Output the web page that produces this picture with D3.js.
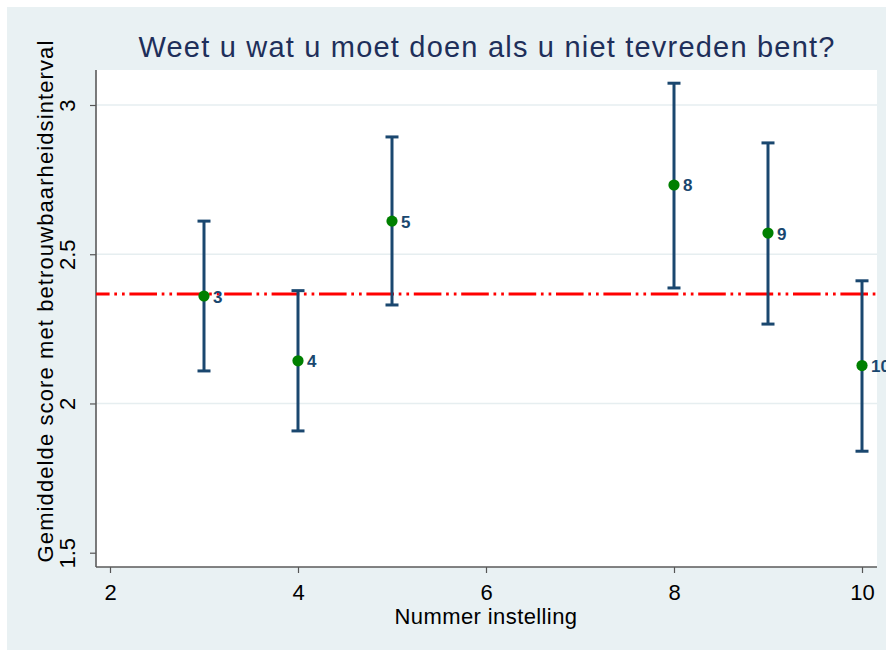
<!DOCTYPE html>
<html>
<head>
<meta charset="utf-8">
<script src="https://cdn.jsdelivr.net/npm/d3@7.9.0/dist/d3.min.js"></script>
<style>
  html, body { margin: 0; padding: 0; background: #fff; }
  svg { display: block; font-family: 'Liberation Sans', Arial, sans-serif; }
</style>
</head>
<body>
<div id="chart"></div>
<script>
const instellingen = [3, 4, 5, 8, 9, 10];
const gemiddelden = [2.36, 2.143, 2.611, 2.732, 2.571, 2.127];
const ondergrenzen = [2.109, 1.908, 2.33, 2.387, 2.266, 1.84];
const bovengrenzen = [2.611, 2.378, 2.893, 3.073, 2.873, 2.411];
const totaalGemiddelde = 2.367;
const xTicks = [2, 4, 6, 8, 10];
const yTicks = [1.5, 2, 2.5, 3];
const gridTicks = [2, 2.5, 3];

const width = 886;
const height = 650;

const plot = { left: 96, right: 877, top: 70, bottom: 567 };

const svg = d3
  .select('#chart')
  .append('svg')
  .attr('width', width)
  .attr('height', height);

// background
svg.append('rect')
  .attr('x', 7).attr('y', 7)
  .attr('width', width - 7).attr('height', height - 7)
  .attr('fill', '#e9f1f3');

svg.append('rect')
  .attr('x', plot.left).attr('y', plot.top)
  .attr('width', plot.right - plot.left).attr('height', plot.bottom - plot.top)
  .attr('fill', '#fff');

const xScale = d3.scaleLinear().domain([2, 10]).range([110, 862]);
const yScale = d3.scaleLinear().domain([1.5, 3]).range([552.7, 105]);

// gridlines
svg.append('g')
  .selectAll('line')
  .data(gridTicks)
  .join('line')
  .attr('x1', plot.left).attr('x2', plot.right)
  .attr('y1', (d) => yScale(d)).attr('y2', (d) => yScale(d))
  .attr('stroke', '#e6eef0')
  .attr('stroke-width', 1.5);

// axes
const yAxis = svg.append('g')
  .attr('transform', `translate(${plot.left}, 0)`)
  .call(d3.axisLeft(yScale).tickValues(yTicks).tickFormat((d) => String(d)).tickSize(6).tickSizeOuter(0));
yAxis.select('.domain').remove();
yAxis.selectAll('.tick line').attr('stroke', '#555').attr('stroke-width', 1.2);
yAxis.selectAll('.tick text')
  .attr('transform', 'rotate(-90)')
  .attr('x', 0).attr('y', -21)
  .attr('dy', 0)
  .attr('text-anchor', 'middle')
  .attr('fill', '#000')
  .style('font-size', '22px')
  .style('font-family', 'Liberation Sans, Arial, sans-serif');

const xAxis = svg.append('g')
  .attr('transform', `translate(0, ${plot.bottom})`)
  .call(d3.axisBottom(xScale).tickValues(xTicks).tickSize(6).tickSizeOuter(0));
xAxis.select('.domain').remove();
xAxis.selectAll('.tick line').attr('stroke', '#555').attr('stroke-width', 1.2);
xAxis.selectAll('.tick text')
  .attr('y', 33).attr('dy', 0)
  .attr('fill', '#000')
  .style('font-size', '22px')
  .style('font-family', 'Liberation Sans, Arial, sans-serif');

svg.append('line')
  .attr('x1', plot.left).attr('x2', plot.left)
  .attr('y1', plot.top).attr('y2', plot.bottom)
  .attr('stroke', '#5a5a5a').attr('stroke-width', 1.6);
svg.append('line')
  .attr('x1', plot.left).attr('x2', plot.right)
  .attr('y1', plot.bottom).attr('y2', plot.bottom)
  .attr('stroke', '#5a5a5a').attr('stroke-width', 1.6);

// reference line
svg.append('line')
  .attr('x1', plot.left).attr('x2', plot.right)
  .attr('y1', yScale(totaalGemiddelde)).attr('y2', yScale(totaalGemiddelde))
  .attr('stroke', '#ff0000')
  .attr('stroke-width', 3)
  .attr('stroke-dasharray', '27.6 4.7 2.7 5 2.7 4.7')
  .attr('stroke-dashoffset', 14);

const rows = instellingen.map((x, i) => ({
  x, mean: gemiddelden[i], lo: ondergrenzen[i], hi: bovengrenzen[i],
}));

// error bars
const bars = svg.append('g').attr('stroke', '#1a476f').attr('stroke-width', 3);
bars.selectAll('line.v')
  .data(rows)
  .join('line')
  .attr('class', 'v')
  .attr('x1', (d) => xScale(d.x)).attr('x2', (d) => xScale(d.x))
  .attr('y1', (d) => yScale(d.lo)).attr('y2', (d) => yScale(d.hi));
bars.selectAll('line.hi')
  .data(rows)
  .join('line')
  .attr('class', 'hi')
  .attr('x1', (d) => xScale(d.x) - 6.5).attr('x2', (d) => xScale(d.x) + 6.5)
  .attr('y1', (d) => yScale(d.hi)).attr('y2', (d) => yScale(d.hi));
bars.selectAll('line.lo')
  .data(rows)
  .join('line')
  .attr('class', 'lo')
  .attr('x1', (d) => xScale(d.x) - 6.5).attr('x2', (d) => xScale(d.x) + 6.5)
  .attr('y1', (d) => yScale(d.lo)).attr('y2', (d) => yScale(d.lo));

// points
svg.append('g')
  .selectAll('circle')
  .data(rows)
  .join('circle')
  .attr('cx', (d) => xScale(d.x))
  .attr('cy', (d) => yScale(d.mean))
  .attr('r', 5.6)
  .attr('fill', '#008000');

// marker labels (the last one runs off the right edge, as in the original)
svg.append('g')
  .selectAll('text')
  .data(rows)
  .join('text')
  .attr('x', (d) => xScale(d.x) + 9)
  .attr('y', (d) => yScale(d.mean) + 6.5)
  .attr('fill', '#1a476f')
  .attr('font-weight', 'bold')
  .style('font-size', '17px')
  .text((d) => d.x);

// titles
svg.append('text')
  .attr('x', 487).attr('y', 57)
  .attr('text-anchor', 'middle')
  .attr('fill', '#1e2f5a')
  .style('font-size', '29px')
  .style('letter-spacing', '1.2px')
  .text('Weet u wat u moet doen als u niet tevreden bent?');

svg.append('text')
  .attr('x', 486).attr('y', 624)
  .attr('text-anchor', 'middle')
  .attr('fill', '#000')
  .style('font-size', '22px')
  .style('letter-spacing', '0.4px')
  .text('Nummer instelling');

svg.append('text')
  .attr('transform', 'translate(53, 301) rotate(-90)')
  .attr('text-anchor', 'middle')
  .attr('fill', '#000')
  .style('font-size', '22px')
  .style('letter-spacing', '1.1px')
  .text('Gemiddelde score met betrouwbaarheidsinterval');
</script>
</body>
</html>
